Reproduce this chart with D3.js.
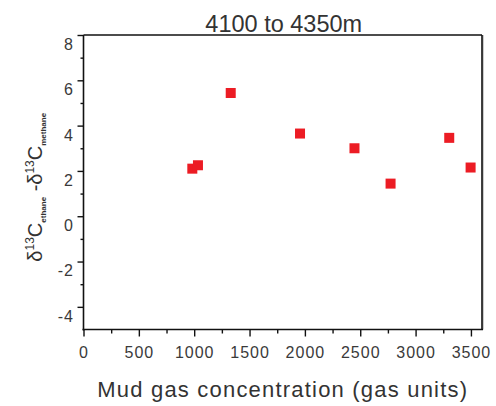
<!DOCTYPE html>
<html>
<head>
<meta charset="utf-8">
<script src="https://cdn.jsdelivr.net/npm/d3@7"></script>
<style>
  html, body { margin: 0; padding: 0; background: #fff; }
  svg { display: block; font-family: "Liberation Sans", Arial, sans-serif; }
</style>
</head>
<body>
<svg id="chart" width="496" height="406"></svg>
<script>
// Mud gas concentration vs. carbon isotope difference, 4100–4350 m interval
const title = "4100 to 4350m";
const gasUnits = [983, 1034, 1330, 1956, 2448, 2774, 3304, 3497];
const isoDiff  = [2.10, 2.25, 5.44, 3.65, 3.00, 1.44, 3.46, 2.15];
const xTicks = [0, 500, 1000, 1500, 2000, 2500, 3000, 3500];
const yTicks = [-4, -2, 0, 2, 4, 6, 8];
const xLabel = "Mud gas concentration (gas units)";

const svg = d3.select("#chart");
const m = { left: 83.5, right: 482, top: 35, bottom: 329.5 };

const x = d3.scaleLinear().domain([0, 3600]).range([m.left, m.right]);
const y = d3.scaleLinear().domain([-5, 8]).range([m.bottom, m.top]);
const plain = d => String(d);   // hyphen-minus, no thousands separator

// frame: top and right edges
svg.append("line").attr("x1", m.left).attr("x2", m.right).attr("y1", m.top).attr("y2", m.top)
  .attr("stroke", "#111").attr("stroke-width", 1.5);
svg.append("line").attr("x1", m.right + 1).attr("x2", m.right + 1).attr("y1", m.top).attr("y2", m.bottom)
  .attr("stroke", "#bbb").attr("stroke-width", 1.5);
svg.append("line").attr("x1", m.right).attr("x2", m.right).attr("y1", m.top).attr("y2", m.bottom)
  .attr("stroke", "#111").attr("stroke-width", 1.6);

// minor ticks
const xMinor = d3.range(250, 3600, 500);
const yMinor = d3.range(-5, 8, 2).filter(v => v > -5);
svg.append("g").attr("transform", `translate(0,${m.bottom})`)
  .call(d3.axisBottom(x).tickValues(xMinor).tickSize(4).tickFormat(""))
  .call(g => g.select(".domain").remove())
  .selectAll("line").attr("stroke", "#111").attr("stroke-width", 1.4);
svg.append("g").attr("transform", `translate(${m.left},0)`)
  .call(d3.axisLeft(y).tickValues(yMinor).tickSize(3).tickFormat(""))
  .call(g => g.select(".domain").remove())
  .selectAll("line").attr("stroke", "#111").attr("stroke-width", 1.4);

// major axes
const gx = svg.append("g").attr("transform", `translate(0,${m.bottom})`)
  .call(d3.axisBottom(x).tickValues(xTicks).tickFormat(plain)
    .tickSize(7).tickSizeOuter(0).tickPadding(10));
const gy = svg.append("g").attr("transform", `translate(${m.left},0)`)
  .call(d3.axisLeft(y).tickValues(yTicks).tickFormat(plain)
    .tickSize(6).tickSizeOuter(0).tickPadding(4.5));
[gx, gy].forEach(g => {
  g.select(".domain").attr("stroke", "#111").attr("stroke-width", 1.6);
  g.selectAll(".tick line").attr("stroke", "#111").attr("stroke-width", 1.4);
  g.selectAll(".tick text").attr("fill", "#3a3a3a")
    .style("font-size", "16px").style("letter-spacing", "1px")
    .style("font-family", "Liberation Sans, Arial, sans-serif");
});
// extend the domain lines across the full plot corners
gx.select(".domain").attr("d", `M${m.left - 1},0H${m.right + 1}`);
gy.select(".domain").attr("d", `M0,${m.top}V${m.bottom + 1}`);
// y labels sit just below their ticks
gy.selectAll(".tick text").attr("dy", "0.9em").attr("dx", "1px");

// points
svg.append("g").selectAll("rect").data(gasUnits.map((g, i) => [g, isoDiff[i]]))
  .join("rect")
  .attr("x", d => x(d[0]) - 5).attr("y", d => y(d[1]) - 5)
  .attr("width", 10).attr("height", 10)
  .attr("fill", "#ec1c24");

// title
svg.append("text").attr("x", (m.left + m.right) / 2 + 1).attr("y", 32)
  .attr("text-anchor", "middle").attr("font-size", 23.5).attr("fill", "#333")
  .text(title);

// x-axis label
svg.append("text").attr("x", (m.left + m.right) / 2).attr("y", 397)
  .attr("text-anchor", "middle").attr("font-size", 22).attr("fill", "#333")
  .attr("letter-spacing", 1.2)
  .text(xLabel);

// y-axis label: δ13C(ethane) − δ13C(methane)
const yl = svg.append("text")
  .attr("transform", `translate(42,${(m.top + m.bottom) / 2 + 5}) rotate(-90)`)
  .attr("text-anchor", "middle").attr("fill", "#333").attr("font-size", 20);
yl.append("tspan").text("δ");
yl.append("tspan").attr("font-size", 12).attr("dy", -8).text("13");
yl.append("tspan").attr("dy", 8).text("C");
yl.append("tspan").attr("font-size", 8).attr("font-weight", "bold").attr("dy", 4).text("ethane");
yl.append("tspan").attr("dy", -4).text(" -δ");
yl.append("tspan").attr("font-size", 12).attr("dy", -8).text("13");
yl.append("tspan").attr("dy", 8).text("C");
yl.append("tspan").attr("font-size", 8).attr("font-weight", "bold").attr("dy", 4).text("methane");
</script>
</body>
</html>
